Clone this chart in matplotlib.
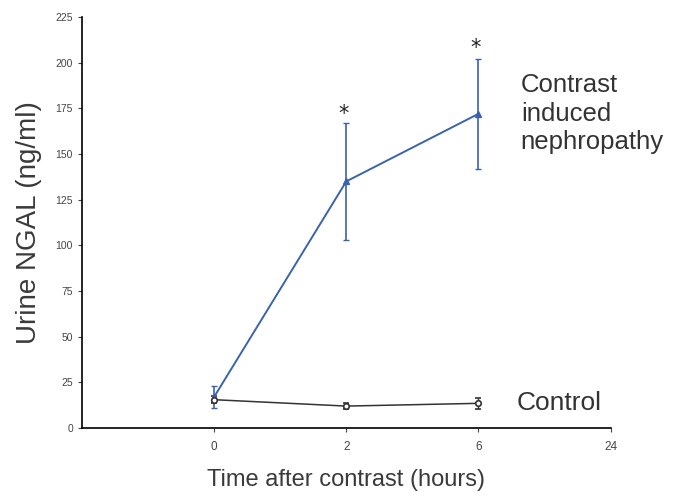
import matplotlib
matplotlib.use('Agg')
import matplotlib.pyplot as plt
import numpy as np

# data
time_labels = ["0", "2", "6", "24"]
cin_mean = [17, 135, 172]
cin_err = [6, 32, 30]
ctrl_mean = [15.5, 12, 13.5]
ctrl_err = [2, 1.5, 3]
star_y = [172, 208]

plt.rcParams['font.family'] = ['Liberation Sans', 'DejaVu Sans']

x = np.arange(len(cin_mean))

fig = plt.figure(figsize=(6.77, 5), dpi=100)
ax = fig.add_axes([0.121, 0.144, 0.781, 0.822])

blue = "#3a63ad"
ax.errorbar(x, cin_mean, yerr=cin_err, color=blue, marker="^", markersize=4,
            lw=1.4, elinewidth=1.2, capsize=2, capthick=1)
ax.errorbar(x, ctrl_mean, yerr=ctrl_err, color="#333333", marker="o", markersize=4,
            markerfacecolor="white", markeredgewidth=1.2, lw=1.1,
            elinewidth=1, capsize=2, capthick=1)

for xi, yi in zip(x[1:], star_y):
    ax.text(xi - 0.02, yi, "*", ha="center", va="center", fontsize=15,
            color="#222222", family="DejaVu Sans")

ax.set_xlim(-1, 3)
ax.set_ylim(0, 225)
ax.set_xticks(np.arange(len(time_labels)))
ax.set_xticklabels(time_labels)
ax.set_yticks(np.arange(0, 226, 25))
ax.tick_params(labelsize=7.5, colors="#444444", length=3, direction="out")
ax.tick_params(axis="x", labelsize=8.5, pad=6)
ax.spines["top"].set_visible(False)
ax.spines["right"].set_visible(False)
for s in ["left", "bottom"]:
    ax.spines[s].set_linewidth(1.2)

ax.set_ylabel("Urine NGAL (ng/ml)", fontsize=20, color="#3a3a3a", labelpad=10)
ax.set_xlabel("Time after contrast (hours)", fontsize=17, color="#3a3a3a", labelpad=12)

ax.text(2.32, 152.5, "Contrast\ninduced\nnephropathy", fontsize=18.5, color="#333333",
        va="baseline", ha="left", linespacing=1.25)
ax.text(2.29, 10, "Control", fontsize=19, color="#333333", va="baseline", ha="left")

fig.savefig("out.png", dpi=100)
